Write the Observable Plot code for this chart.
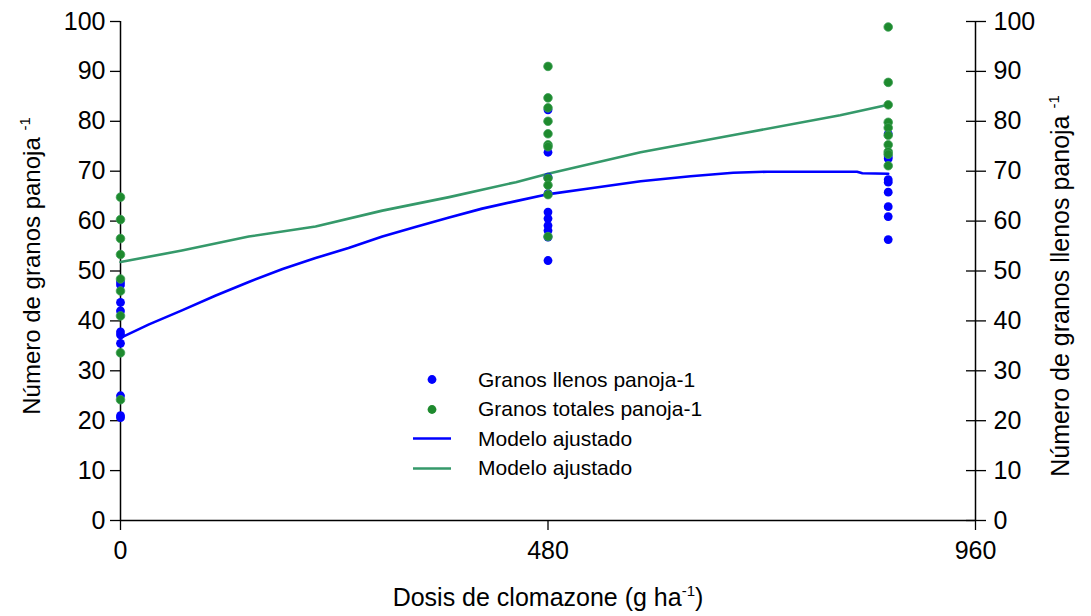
<!DOCTYPE html>
<html>
<head>
<meta charset="utf-8">
<script src="https://cdn.jsdelivr.net/npm/d3@7"></script>
<script src="https://cdn.jsdelivr.net/npm/@observablehq/plot@0.6"></script>
<style>
  body { margin: 0; background: #fff; font-family: "Liberation Sans", Arial, sans-serif; }
  #wrap { position: relative; width: 1091px; height: 616px; }
  .legend { position: absolute; left: 410px; top: 365px; font-size: 21px; color: #000; }
  .legend .row { display: flex; align-items: center; height: 29.5px; }
  .legend svg { width: 44px; height: 29px; margin-right: 24px; flex: none; }
</style>
</head>
<body>
<div id="wrap"></div>
<script>
// Clomazone doses (g ha-1) at which panicles were sampled
const doses = [0, 480, 862];

// Filled grains per panicle, one list per dose
const llenosDose0   = [47.8, 47.2, 43.7, 42.0, 37.8, 37.2, 35.5, 25.0, 21.0, 20.6];
const llenosDose480 = [82.3, 73.8, 68.8, 65.5, 61.8, 60.5, 59.1, 58.1, 56.8, 52.1];
const llenosDose862 = [77.5, 72.9, 72.5, 68.3, 67.8, 65.8, 62.9, 60.9, 56.3];

// Total grains per panicle, one list per dose
const totalesDose0   = [64.8, 60.3, 56.5, 53.3, 48.4, 46.0, 41.0, 33.6, 24.2];
const totalesDose480 = [91.0, 84.7, 82.7, 80.0, 77.5, 75.3, 74.9, 68.6, 67.2, 65.3, 56.9];
const totalesDose862 = [98.9, 87.8, 83.3, 79.8, 78.7, 77.2, 75.3, 73.9, 73.4, 71.1];

// Fitted model curves
const fitLlenosDose = [0, 32, 69, 107, 144, 182, 219, 256, 294, 331, 369, 406, 444, 477, 528, 584, 640, 688, 726, 827, 833, 862];
const fitLlenos     = [36.6, 39.3, 42.1, 45.1, 47.8, 50.4, 52.6, 54.6, 56.9, 58.8, 60.7, 62.5, 64.0, 65.3, 66.6, 68.0, 69.0, 69.7, 69.9, 69.9, 69.6, 69.5];
const fitTotalesDose = [0, 69, 144, 219, 294, 369, 444, 480, 584, 696, 808, 862];
const fitTotales     = [51.8, 54.1, 56.9, 58.9, 62.1, 64.8, 67.8, 69.5, 73.8, 77.5, 81.2, 83.3];

// Axis ticks
const yTicks = [0, 10, 20, 30, 40, 50, 60, 70, 80, 90, 100];
const xTicks = [0, 480, 960];

const blue = "#0000ff";
const green = "#1e8a2e";
const greenLine = "#35996a";

function toRows(lists) {
  return lists.flatMap((vals, i) => vals.map(v => ({dose: doses[i], v})));
}
const llenos = toRows([llenosDose0, llenosDose480, llenosDose862]);
const totales = toRows([totalesDose0, totalesDose480, totalesDose862]);
const fitL = fitLlenosDose.map((d, i) => ({dose: d, v: fitLlenos[i]}));
const fitT = fitTotalesDose.map((d, i) => ({dose: d, v: fitTotales[i]}));

const W = 1091, H = 616;
const plot = Plot.plot({
  width: W,
  height: H,
  marginLeft: 120,
  marginRight: 116,
  marginTop: 21,
  marginBottom: 96,
  style: {fontFamily: "Liberation Sans, Arial, sans-serif", fontSize: "25px", color: "#000", background: "#fff", overflow: "visible"},
  x: {domain: [0, 960]},
  y: {domain: [0, 100]},
  marks: [
    Plot.axisY(yTicks, {anchor: "left", tickSize: 10, tickPadding: 5, label: null, strokeWidth: 1.3}),
    Plot.axisY(yTicks, {anchor: "right", tickSize: 10, tickPadding: 8, label: null, strokeWidth: 1.3}),
    Plot.axisY(yTicks, {anchor: "right", tickSize: 10, dx: -10, tickFormat: () => "", label: null, strokeWidth: 1.3}),
    Plot.axisX(xTicks, {anchor: "bottom", tickSize: 10, tickPadding: 11, label: null, strokeWidth: 1.3}),
    Plot.ruleX([0, 960], {stroke: "#000", strokeWidth: 1.5}),
    Plot.ruleY([0], {stroke: "#000", strokeWidth: 1.5}),
    Plot.line(fitT, {x: "dose", y: "v", stroke: greenLine, strokeWidth: 2.6}),
    Plot.line(fitL, {x: "dose", y: "v", stroke: blue, strokeWidth: 2.6}),
    Plot.dot(llenos, {x: "dose", y: "v", r: 4.4, fill: blue}),
    Plot.dot(totales, {x: "dose", y: "v", r: 4.3, fill: green, stroke: "#3c9f55", strokeWidth: 0.8})
  ]
});

const wrap = document.getElementById("wrap");
wrap.appendChild(plot);

// Axis titles with superscript exponents
const svg = d3.select(plot);
function title(x, y, rotate, size, main, sup, tail) {
  const t = svg.append("text")
    .attr("transform", `translate(${x},${y})${rotate ? " rotate(-90)" : ""}`)
    .attr("text-anchor", "middle")
    .attr("fill", "#000")
    .style("font-size", size + "px");
  t.append("tspan").text(main);
  t.append("tspan").attr("dy", -10).style("font-size", "15px").text(sup);
  if (tail) t.append("tspan").attr("dy", 10).text(tail);
}
title(40, 266, true, 24, "Número de granos panoja ", "-1");
title(1069, 286, true, 25, "Número de granos llenos panoja ", "-1");
title(548, 606, false, 25, "Dosis de clomazone (g ha", "-1", ")");

// Legend
const legendItems = [
  {kind: "dot", color: blue, label: "Granos llenos panoja-1"},
  {kind: "dot", color: green, label: "Granos totales panoja-1"},
  {kind: "line", color: blue, label: "Modelo ajustado"},
  {kind: "line", color: greenLine, label: "Modelo ajustado"}
];
const legend = document.createElement("div");
legend.className = "legend";
for (const item of legendItems) {
  const row = document.createElement("div");
  row.className = "row";
  const sw = item.kind === "dot"
    ? `<svg viewBox="0 0 44 29"><circle cx="22" cy="14.5" r="4.4" fill="${item.color}"/></svg>`
    : `<svg viewBox="0 0 44 29"><line x1="3" x2="41" y1="14.5" y2="14.5" stroke="${item.color}" stroke-width="2.6"/></svg>`;
  row.innerHTML = sw + `<span>${item.label}</span>`;
  legend.appendChild(row);
}
wrap.appendChild(legend);
</script>
</body>
</html>
